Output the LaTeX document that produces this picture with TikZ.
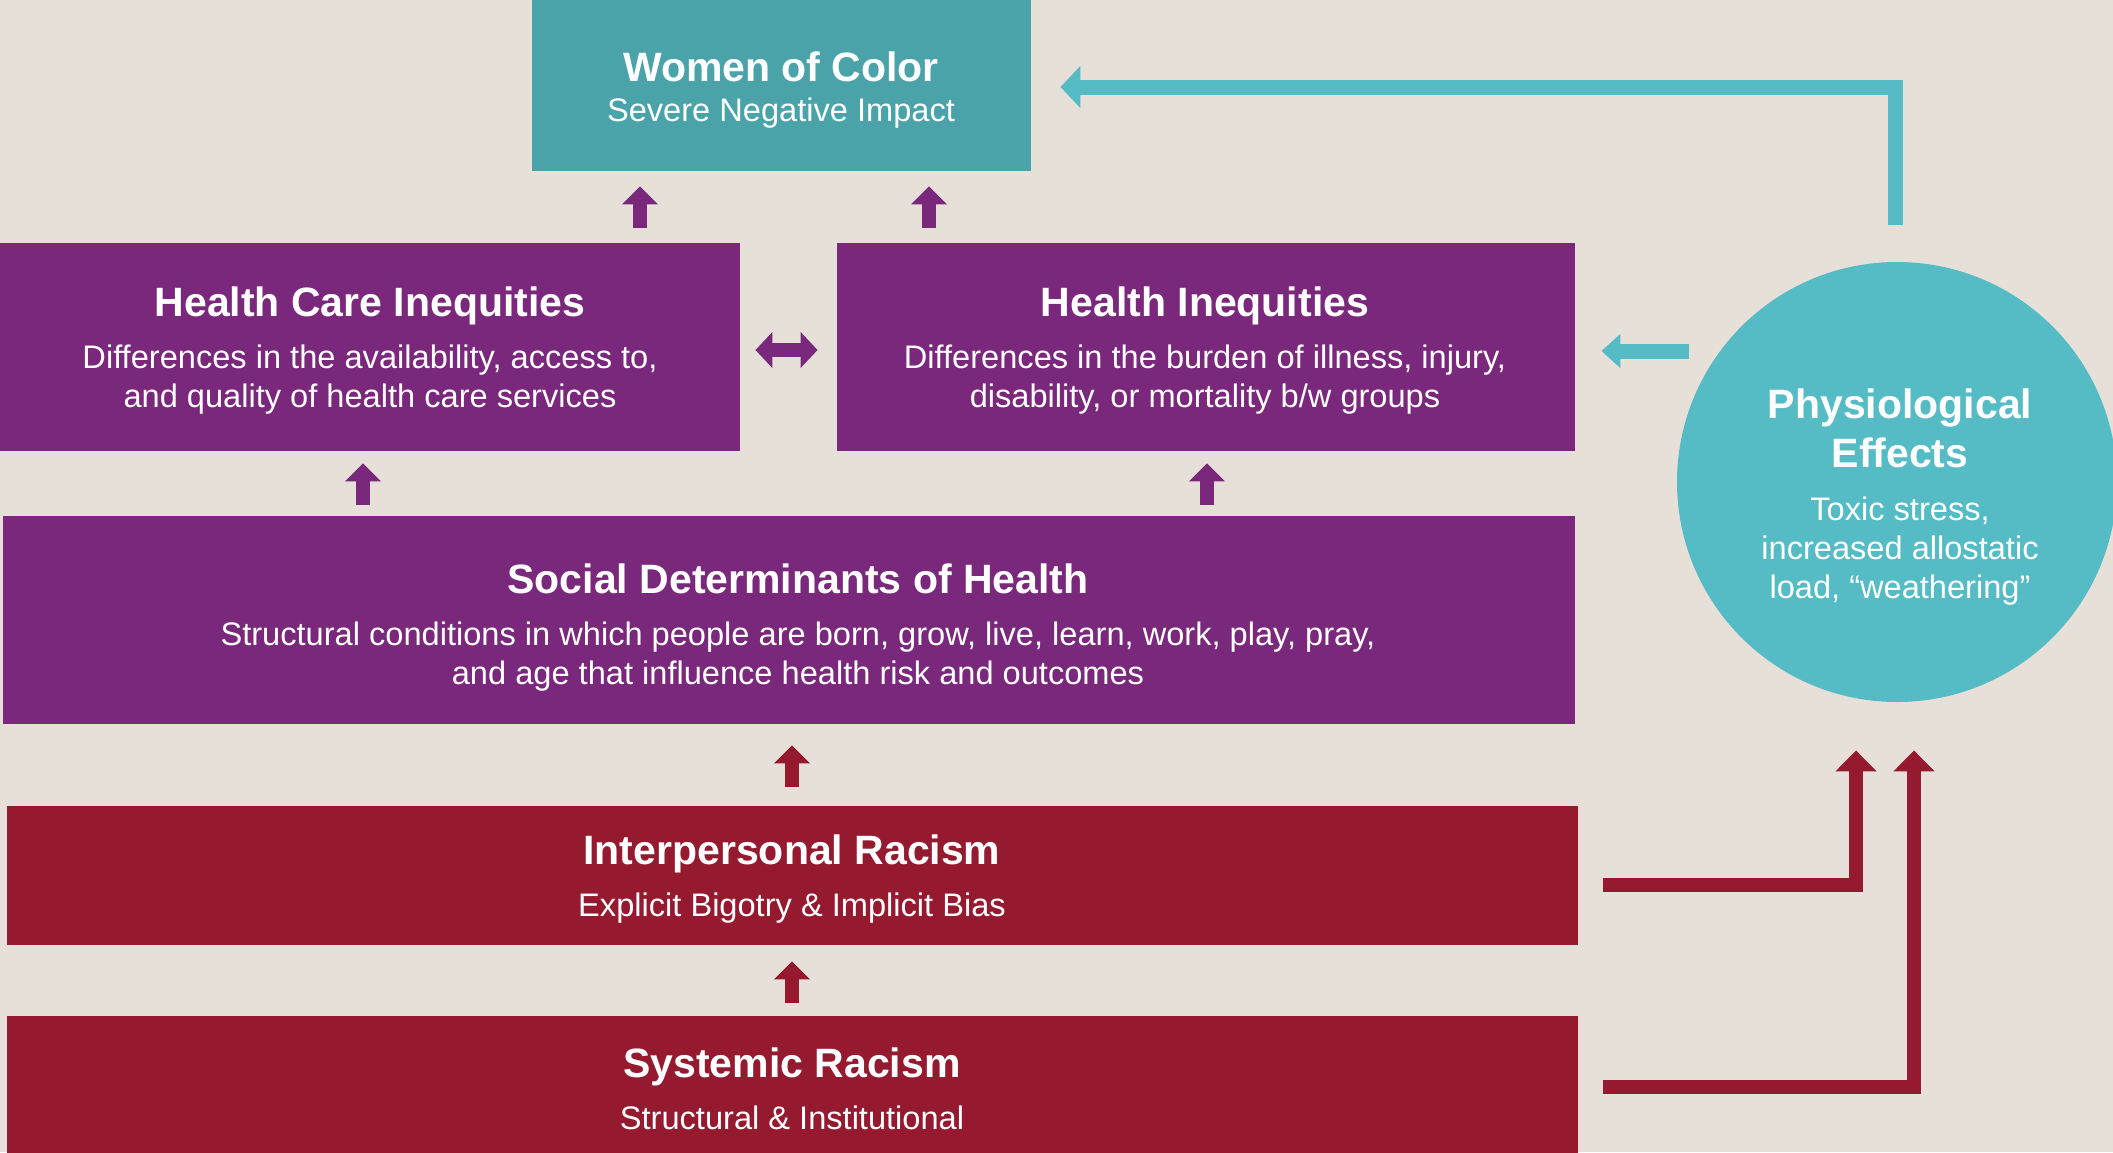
\documentclass[tikz,border=0pt]{standalone}
\usepackage{fontspec}
\setmainfont{Liberation Sans}
\usetikzlibrary{arrows.meta,fit,calc}
\definecolor{bgc}{HTML}{E6E0D9}
\definecolor{tealbox}{HTML}{4AA3A9}
\definecolor{purp}{HTML}{7A287B}
\definecolor{redc}{HTML}{951A30}
\definecolor{tealc}{HTML}{55BBC5}
\tikzset{
  box/.style={inner sep=0pt, draw=none},
  ttl/.style={font=\fontsize{20.5pt}{24pt}\selectfont\bfseries, text=white, inner sep=0pt, anchor=base},
  sub/.style={font=\fontsize{16.3pt}{19.5pt}\selectfont, text=white, inner sep=0pt, anchor=base},
  parr/.style={draw=purp, line width=7pt, -{Triangle[width=17.5pt,length=9pt]}},
  parrtwo/.style={draw=purp, line width=7pt, {Triangle[width=17.5pt,length=8.5pt]}-{Triangle[width=17.5pt,length=8.5pt]}},
  rarr/.style={draw=redc, line width=7pt, -{Triangle[width=17.5pt,length=9pt]}},
  relbow/.style={draw=redc, line width=7pt, line join=miter, -{Triangle[width=20pt,length=10.5pt]}},
  tsmall/.style={draw=tealc, line width=7.5pt, -{Triangle[width=16.5pt,length=9.5pt]}},
  tbig/.style={draw=tealc, line width=7.5pt, line join=miter, -{Triangle[width=20.5pt,length=10pt]}}
}
\begin{document}
\begin{tikzpicture}[x=0.5pt,y=-0.5pt]
\useasboundingbox (0,0) rectangle (2113,1152);
\clip (0,0) rectangle (2113,1152);
\fill[bgc] (0,0) rectangle (2113,1152);

% boxes
\node[box, fill=tealbox, fit={(532,0)(1031,171)}] (woc) {};
\node[box, fill=purp, fit={(0,243)(740,451)}] (hci) {};
\node[box, fill=purp, fit={(837,243)(1575,451)}] (hi) {};
\node[box, fill=purp, fit={(3,516)(1575,724)}] (sd) {};
\node[box, fill=redc, fit={(7,806)(1578,945)}] (ir) {};
\node[box, fill=redc, fit={(7,1016)(1578,1160)}] (sr) {};
\node[circle, fill=tealc, minimum size=220pt, inner sep=0pt] (phys) at (1897,482) {};

% texts
\node[ttl] (woc-t) at (781,81) {Women of Color};
\node[sub] (woc-s) at (781,121) {Severe Negative Impact};
\node[ttl] (hci-t) at (370,316) {Health Care Inequities};
\node[sub] (hci-s1) at (370,368) {Differences in the availability, access to,};
\node[sub] (hci-s2) at (370,407) {and quality of health care services};
\node[ttl] (hi-t) at (1205,316) {Health Inequities};
\node[sub] (hi-s1) at (1205,368) {Differences in the burden of illness, injury,};
\node[sub] (hi-s2) at (1205,407) {disability, or mortality b/w groups};
\node[ttl] (sd-t) at (798,593) {Social Determinants of Health};
\node[sub] (sd-s1) at (798,645) {Structural conditions in which people are born, grow, live, learn, work, play, pray,};
\node[sub] (sd-s2) at (798,684) {and age that influence health risk and outcomes};
\node[ttl] (ir-t) at (792,864) {Interpersonal Racism};
\node[sub] (ir-s) at (792,916) {Explicit Bigotry \& Implicit Bias};
\node[ttl] (sr-t) at (792,1077) {Systemic Racism};
\node[sub] (sr-s) at (792,1129) {Structural \& Institutional};
\node[ttl] (ph-t1) at (1900,418) {Physiological};
\node[ttl] (ph-t2) at (1900,467) {Effects};
\node[sub] (ph-s1) at (1900,520) {Toxic stress,};
\node[sub] (ph-s2) at (1900,559) {increased allostatic};
\node[sub] (ph-s3) at (1900,598) {load, “weathering”};

% x positions of vertical arrows
\coordinate (xa) at (640,0);
\coordinate (xb) at (929,0);
\coordinate (xc) at (363,0);
\coordinate (xd) at (1207,0);
\coordinate (xe) at (792,0);

% purple arrows
\draw[parr, shorten <=7.5pt, shorten >=7.5pt] (hci.north -| xa) -- (woc.south -| xa);
\draw[parr, shorten <=7.5pt, shorten >=7.5pt] (hi.north -| xb) -- (woc.south -| xb);
\draw[parr, shorten <=5.5pt, shorten >=6pt] (sd.north -| xc) -- (hci.south -| xc);
\draw[parr, shorten <=5.5pt, shorten >=6pt] (sd.north -| xd) -- (hi.south -| xd);
\draw[parrtwo, shorten <=7.5pt, shorten >=9.5pt] ([yshift=-1.5pt]hci.east) -- ([yshift=-1.5pt]hi.west);

% red arrows
\draw[rarr, shorten <=9.5pt, shorten >=10.5pt] (ir.north -| xe) -- (sd.south -| xe);
\draw[rarr, shorten <=6.5pt, shorten >=8pt] (sr.north -| xe) -- (ir.south -| xe);
\draw[relbow, shorten <=12.5pt, shorten >=24pt] ([yshift=-4.75pt]ir.east) -| ($(phys.south)+(-41,0)$);
\draw[relbow, shorten <=12.5pt, shorten >=24pt] ([yshift=0.5pt]sr.east) -| ($(phys.south)+(17,0)$);

% teal arrows
\coordinate (tA) at (1689,351);
\draw[tsmall, shorten >=13pt] (tA) -- (hi.east |- tA);
\draw[tbig, shorten <=18.5pt, shorten >=14.5pt] ([xshift=-1pt]phys.north) |- ([yshift=-0.75pt]woc.east);
\end{tikzpicture}
\end{document}
